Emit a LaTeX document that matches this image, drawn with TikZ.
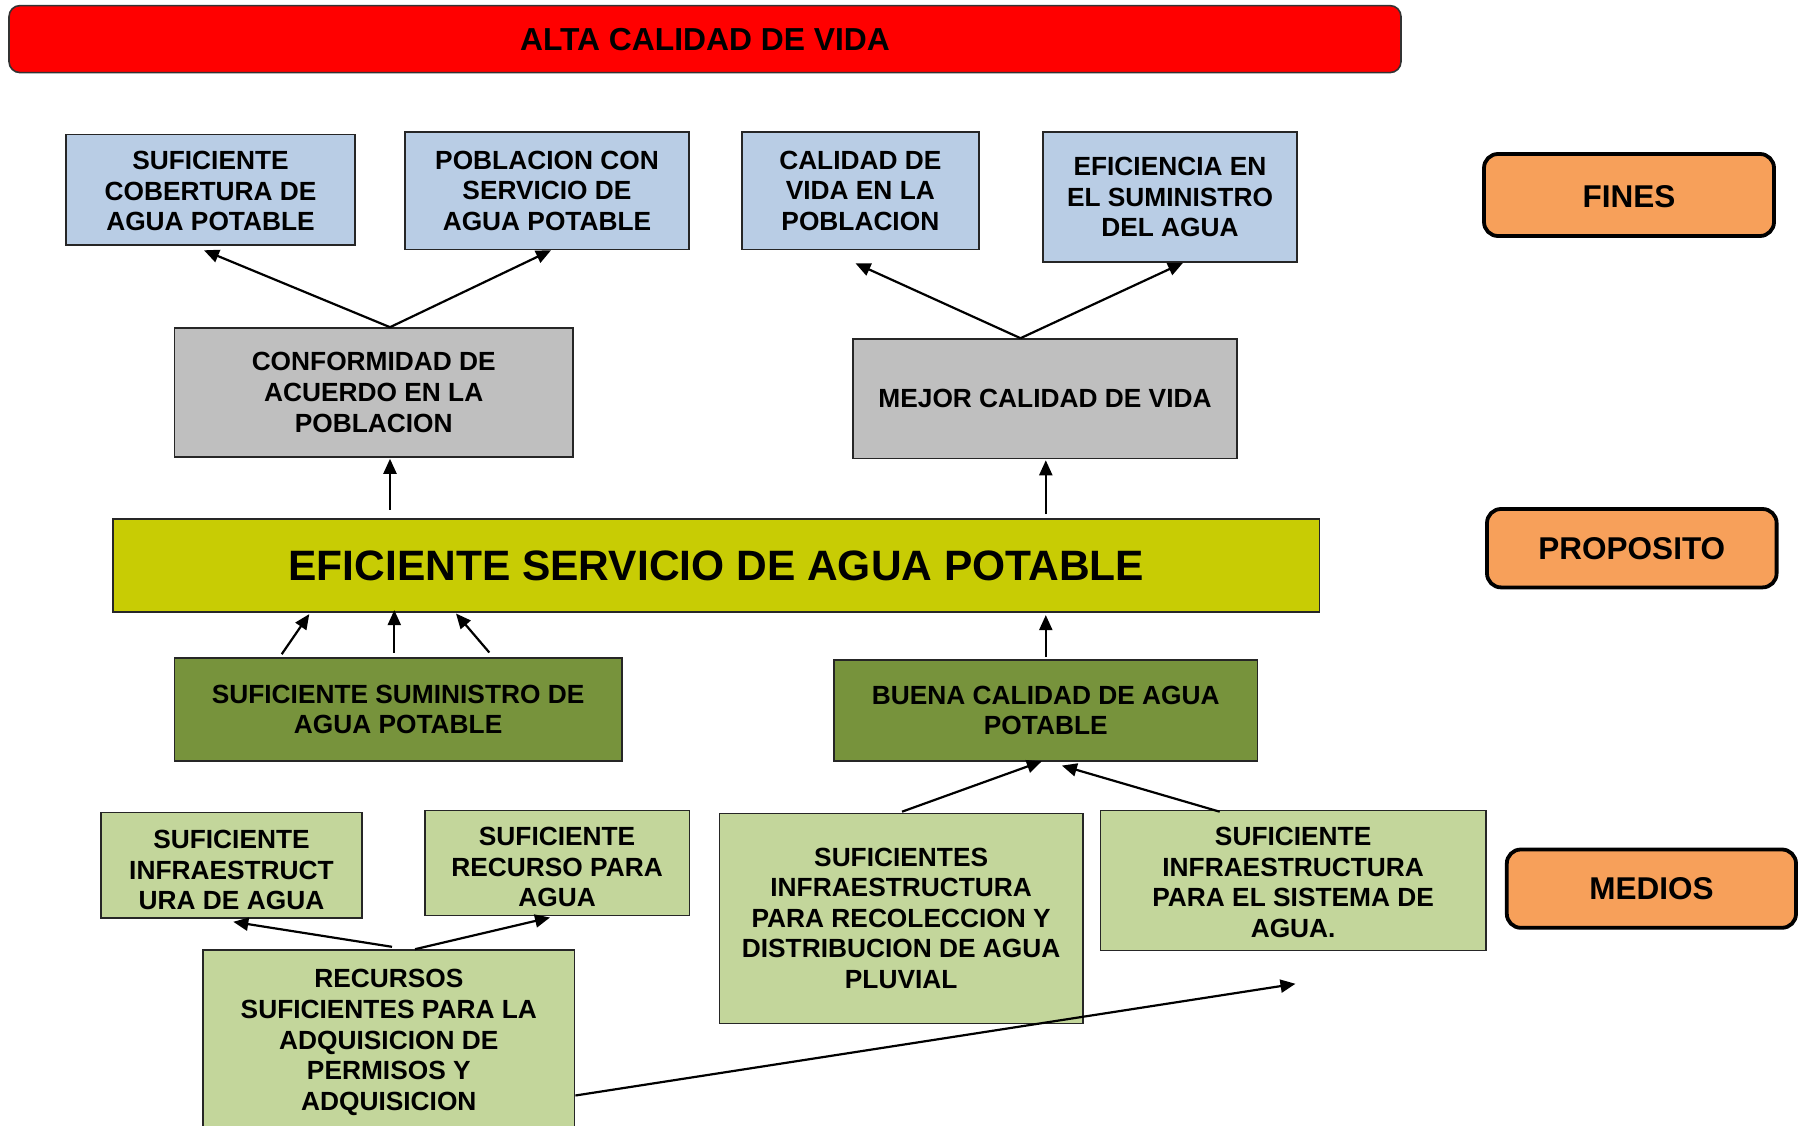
\documentclass[tikz,border=0pt]{standalone}
\usepackage{fontspec}
\setmainfont{Liberation Sans}
\usetikzlibrary{calc,arrows.meta}
\definecolor{cred}{RGB}{255,0,0}
\definecolor{cblue}{RGB}{185,205,229}
\definecolor{cgray}{RGB}{191,191,191}
\definecolor{cyel}{RGB}{200,204,4}
\definecolor{cdgreen}{RGB}{119,147,60}
\definecolor{clgreen}{RGB}{195,214,155}
\definecolor{corange}{RGB}{247,160,90}
\tikzset{
  box/.style={draw=black!85, line width=1.6pt, inner sep=0pt, align=center,
    font=\bfseries\fontsize{26.3}{30.6}\selectfont},
  btxt/.style={inner sep=0pt, align=center, font=\bfseries\fontsize{26.3}{30.6}\selectfont},
  tag/.style={draw=black, line width=3.8pt, rounded corners=14pt, fill=corange,
    inner sep=0pt, font=\bfseries\fontsize{31.5}{36}\selectfont},
  arr/.style={line width=2.2pt, -{Triangle[length=15pt,width=13pt]}},
}
\begin{document}
\begin{tikzpicture}[x=1pt,y=-1pt]
\useasboundingbox (0,0) rectangle (1802,1126);
\fill[white] (0,0) rectangle (1802,1126);
% title
\node[draw=black!80, line width=1.6pt, rounded corners=11pt, fill=cred, inner sep=0pt,
  minimum width=1392pt, minimum height=67pt, font=\bfseries\fontsize{31.8}{36}\selectfont]
  (title) at (705,39.1) {ALTA CALIDAD DE VIDA};
% fines
\node[box, fill=cblue, minimum width=289pt, minimum height=110.4pt] (A) at (210.5,189.8) {};
\node[btxt] (Atxt) at ($(A.center)+(0,1.5)$) {SUFICIENTE\\COBERTURA DE\\AGUA POTABLE};
\node[box, fill=cblue, minimum width=284pt, minimum height=117.5pt] (B) at (547,190.75)
  {POBLACION CON\\SERVICIO DE\\AGUA POTABLE};
\node[box, fill=cblue, minimum width=237.3pt, minimum height=117.5pt] (C) at (860.35,190.75)
  {CALIDAD DE\\VIDA EN LA\\POBLACION};
\node[box, fill=cblue, minimum width=254pt, minimum height=130pt] (D) at (1170,197)
  {EFICIENCIA EN\\EL SUMINISTRO\\DEL AGUA};
\node[tag, minimum width=290pt, minimum height=82pt] (fines) at (1629,195) {};
\node[inner sep=0pt, font=\bfseries\fontsize{31.5}{36}\selectfont] (finestxt) at ($(fines.center)+(0,2)$) {FINES};
\node[box, fill=cgray, minimum width=398.5pt, minimum height=129pt] (E) at (373.75,392.5)
  {CONFORMIDAD DE\\ACUERDO EN LA\\POBLACION};
\node[box, fill=cgray, minimum width=384pt, minimum height=119.5pt] (F) at (1045,398.75)
  {MEJOR CALIDAD DE VIDA};
% proposito
\node[box, fill=cyel, minimum width=1206.6pt, minimum height=93pt,
  font=\bfseries\fontsize{42.5}{48}\selectfont] (Y) at (716.3,565.5)
  {EFICIENTE SERVICIO DE AGUA POTABLE};
\node[tag, minimum width=289.6pt, minimum height=78.4pt] (prop) at (1631.8,548.2) {PROPOSITO};
% medios
\node[box, fill=cdgreen, minimum width=447.2pt, minimum height=103.4pt] (G) at (398.1,709.5)
  {SUFICIENTE SUMINISTRO DE\\AGUA POTABLE};
\node[box, fill=cdgreen, minimum width=423.6pt, minimum height=101.2pt] (H) at (1045.8,710.6)
  {BUENA CALIDAD DE AGUA\\POTABLE};
\node[box, fill=clgreen, minimum width=261pt, minimum height=105.5pt] (I) at (231.5,865.25) {};
\node[btxt] (Itxt) at ($(I.center)+(0,4.75)$) {SUFICIENTE\\INFRAESTRUCT\\URA DE AGUA};
\node[box, fill=clgreen, minimum width=264.6pt, minimum height=105.2pt] (J) at (557.1,863) {};
\node[btxt] (Jtxt) at ($(J.center)+(0,4)$) {SUFICIENTE\\RECURSO PARA\\AGUA};
\node[box, fill=clgreen, minimum width=363.7pt, minimum height=210pt] (K) at (901.15,918.3)
  {SUFICIENTES\\INFRAESTRUCTURA\\PARA RECOLECCION Y\\DISTRIBUCION DE AGUA\\PLUVIAL};
\node[box, fill=clgreen, minimum width=385.7pt, minimum height=140pt] (L) at (1293.15,880.4) {};
\node[btxt] (Ltxt) at ($(L.center)+(0,2)$) {SUFICIENTE\\INFRAESTRUCTURA\\PARA EL SISTEMA DE\\AGUA.};
\node[tag, minimum width=289.2pt, minimum height=78.3pt] (medios) at (1651.4,888.65) {MEDIOS};
\node[box, fill=clgreen, minimum width=371.6pt, minimum height=178pt] (M) at (388.8,1039) {};
\node[btxt] (Mtxt) at ($(M.center)+(0,3.5)$)
  {RECURSOS\\SUFICIENTES PARA LA\\ADQUISICION DE\\PERMISOS Y\\ADQUISICION};
\coordinate (endM) at (1295.5,983.8);
% arrows
\draw[arr] ($(E.north)+(16.25,0)$) -- ($(A.south)+(-6.5,4.5)$);
\draw[arr] ($(E.north)+(16.25,0)$) -- ($(B.south)+(4,0)$);
\draw[arr] ($(F.north)+(-24.5,0)$) -- ($(C.south)+(-4.85,13)$);
\draw[arr] ($(F.north)+(-24.5,0)$) -- ($(D.south)+(13,0)$);
\draw[arr] ($(Y.north)+(-326.3,-8.4)$) -- ($(E.south)+(16.25,1)$);
\draw[arr] ($(Y.north)+(329.5,-4)$) -- ($(F.south)+(0.8,1)$);
\draw[arr] ($(G.north)+(-116.4,-2.8)$) -- ($(Y.south)+(-407,1.3)$);
\draw[arr] ($(G.north)+(-3.8,-4.5)$) -- ($(Y.south)+(-322,-2.7)$);
\draw[arr] ($(G.north)+(91.2,-4.5)$) -- ($(Y.south)+(-260.3,0.7)$);
\draw[arr] ($(H.north)+(0,-2)$) -- ($(Y.south)+(329.5,2.3)$);
\draw[arr] ($(M.north)+(3.2,-2.4)$) -- ($(I.south)+(1.8,3)$);
\draw[arr] ($(M.north)+(26.2,0)$) -- ($(J.south)+(-7.1,1.1)$);
\draw[arr] ($(K.north)+(0.85,-0.8)$) -- ($(H.south)+(-4,-0.7)$);
\draw[arr] ($(L.north)+(-73.45,2.1)$) -- ($(H.south)+(16.1,3.6)$);
\draw[arr] ($(M.east)+(0,56.5)$) -- (endM);
\end{tikzpicture}
\end{document}
